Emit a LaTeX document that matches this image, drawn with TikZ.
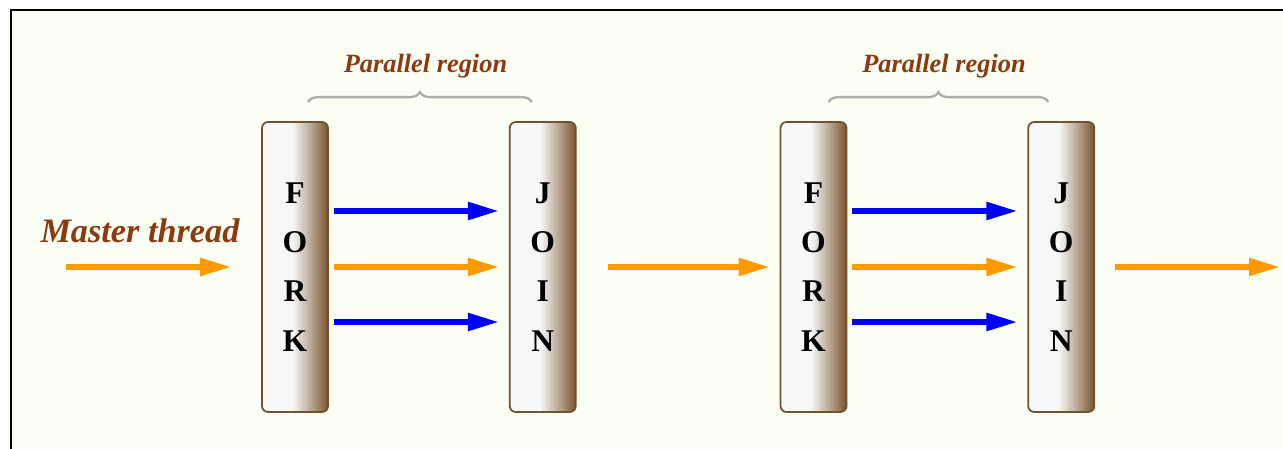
\documentclass[tikz,border=0pt]{standalone}
\usepackage{fontspec}
\setmainfont{Liberation Serif}
\usepackage{xcolor}
\usepackage{tikz}
\usetikzlibrary{positioning, arrows.meta, decorations.pathreplacing}

\definecolor{cream}{RGB}{251,254,243}
\definecolor{barkbrown}{RGB}{122,84,46}
\definecolor{edgebrown}{RGB}{112,82,48}
\definecolor{paleside}{RGB}{247,247,247}
\definecolor{rust}{RGB}{140,58,16}
\definecolor{threadorange}{RGB}{255,153,0}

% pale on the left, darkening to brown on the right
\pgfdeclarehorizontalshading{barrel}{100bp}{color(0bp)=(paleside); color(25bp)=(paleside);
  color(48bp)=(paleside); color(62bp)=(barkbrown!50!paleside); color(75bp)=(barkbrown);
  color(100bp)=(barkbrown)}

\begin{document}
\begin{tikzpicture}[
      bar/.style={draw=edgebrown, line width=1pt, rounded corners=0.12cm, shading=barrel,
        minimum width=1.32cm, minimum height=5.8cm, inner sep=0pt, align=center,
        font=\fontsize{18}{28}\selectfont\bfseries},
      thread/.style={line width=0.11cm, -{Triangle[length=0.62cm, width=0.34cm]}},
      master/.style={thread, threadorange},
      worker/.style={thread, blue},
      brace/.style={decorate, decoration={brace, amplitude=0.2cm}, gray!65, line width=1.3pt},
      note/.style={text=rust, font=\bfseries\itshape}
    ]
    \useasboundingbox (0,0) rectangle (25.66,8.98);
    \fill[cream] (0.22,0) rectangle (25.66,8.78);
    \draw[line width=1.2pt] (0.22,0) -- (0.22,8.78) -- (25.66,8.78);

    \node[bar] (fork1) at (5.90,3.64) {F\\O\\R\\K};
    \node[bar, right=3.6cm of fork1] (join1) {J\\O\\I\\N};
    \node[bar, right=4.06cm of join1] (fork2) {F\\O\\R\\K};
    \node[bar, right=3.6cm of fork2] (join2) {J\\O\\I\\N};

    \coordinate (start) at (1.32,3.64);
    \coordinate (finish) at (25.6,3.64);

    \node[note, font=\fontsize{19.5}{22}\selectfont\bfseries\itshape] (mlabel) at (2.8,4.36) {Master thread};

    \draw[master, shorten >=0.6cm] (start) -- (fork1);
    \draw[worker, shorten <=0.1cm, shorten >=0.2cm] ([yshift=1.12cm]fork1.east) -- ([yshift=1.12cm]join1.west);
    \draw[master, shorten <=0.1cm, shorten >=0.2cm] (fork1) -- (join1);
    \draw[worker, shorten <=0.1cm, shorten >=0.2cm] ([yshift=-1.1cm]fork1.east) -- ([yshift=-1.1cm]join1.west);
    \draw[master, shorten <=0.62cm, shorten >=0.2cm] (join1) -- (fork2);
    \draw[worker, shorten <=0.1cm, shorten >=0.2cm] ([yshift=1.12cm]fork2.east) -- ([yshift=1.12cm]join2.west);
    \draw[master, shorten <=0.1cm, shorten >=0.2cm] (fork2) -- (join2);
    \draw[worker, shorten <=0.1cm, shorten >=0.2cm] ([yshift=-1.1cm]fork2.east) -- ([yshift=-1.1cm]join2.west);
    \draw[master, shorten <=0.4cm] (join2) -- (finish);

    \draw[brace] ([shift={(0.26,0.38)}]fork1.north) -- ([shift={(-0.22,0.38)}]join1.north);
    \draw[brace] ([shift={(0.30,0.38)}]fork2.north) -- ([shift={(-0.26,0.38)}]join2.north);

    \node[note, font=\fontsize{15}{18}\selectfont\bfseries\itshape] (plabel1) at (8.51,7.66) {Parallel region};
    \node[note, font=\fontsize{15}{18}\selectfont\bfseries\itshape] (plabel2) at (18.88,7.66) {Parallel region};
  \end{tikzpicture}
\end{document}
